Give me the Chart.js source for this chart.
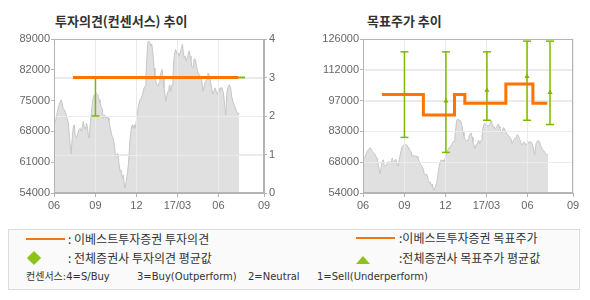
<!DOCTYPE html>
<html><head><meta charset="utf-8">
<script src="https://cdn.jsdelivr.net/npm/chart.js@4.4.0/dist/chart.umd.min.js"></script>
<style>
body{margin:0;background:#fff;}
#wrap{position:relative;width:590px;height:300px;overflow:hidden;font-family:"Noto Sans CJK KR","Noto Sans",sans-serif;color:#333;}
.t{position:absolute;white-space:nowrap;line-height:1;font-size:12px;}
.s{font-family:"DejaVu Sans","Noto Sans CJK KR",sans-serif;font-size:10px;}
.title{font-size:13px;font-weight:bold;color:#333;}
canvas{position:absolute;}
#legend{position:absolute;left:8px;top:229px;width:570px;height:59px;border:1px solid #dcdcdc;background:#fafafa;}
.oline{position:absolute;height:2px;background:#f07810;}
.diamond{position:absolute;width:10px;height:10px;background:#8cc31a;transform:rotate(45deg);}
.tri{position:absolute;width:0;height:0;border-left:7px solid transparent;border-right:7px solid transparent;border-bottom:8px solid #8cc31a;}
</style></head><body>
<div id="wrap">
  <div class="t title" style="left:55px;top:14px;">투자의견(컨센서스) 추이</div>
  <div class="t title" style="left:367px;top:14px;">목표주가 추이</div>
  <canvas id="c1" width="290" height="215" style="left:0;top:0;width:290px;height:215px"></canvas>
  <canvas id="c2" width="290" height="215" style="left:300px;top:0;width:290px;height:215px"></canvas>
  <div id="legend"></div>
  <div class="oline" style="left:26px;top:238px;width:39px;"></div>
  <div class="t" style="left:68px;top:233px;">: 이베스트투자증권 투자의견</div>
  <div class="diamond" style="left:29px;top:253px;"></div>
  <div class="t" style="left:68px;top:252px;">: 전체증권사 투자의견 평균값</div>
  <div class="t s" style="left:26px;top:272px;">컨센서스:4=S/Buy</div>
  <div class="t s" style="left:137px;top:272px;">3=Buy(Outperform)</div>
  <div class="t s" style="left:248px;top:272px;">2=Neutral</div>
  <div class="t s" style="left:317px;top:272px;">1=Sell(Underperform)</div>
  <div class="oline" style="left:356px;top:237px;width:39px;"></div>
  <div class="t" style="left:399px;top:232px;">:이베스트투자증권 목표주가</div>
  <div class="tri" style="left:356px;top:256px;"></div>
  <div class="t" style="left:399px;top:252px;">:전체증권사 목표주가 평균값</div>
</div>
<script>
// ---- data (x = days since 2016-06-01) ----
const xTickDays = [0, 92, 183, 274, 365, 466];
const xTickLabels = ['06', '09', '12', '17/03', '06', '09'];

const priceDays = [0,2,4,7,10,13,16,18,20,23,26,29,32,34,36,38,41,43,45,47,50,52,55,58,61,63,65,67,70,72,74,76,78,81,83,86,88,91,94,97,100,102,105,107,109,112,115,118,121,122,125,128,131,134,136,138,141,143,145,147,149,152,154,156,158,160,163,165,167,169,172,174,176,178,180,183,185,188,191,194,197,200,202,204,206,208,210,213,215,217,220,222,224,226,228,231,233,235,237,240,242,244,246,248,251,253,255,257,259,262,264,266,268,270,273,275,277,280,282,285,287,289,291,293,296,298,300,302,304,306,309,311,314,316,320,324,328,331,334,336,340,342,345,347,350,352,355,357,360,363,366,368,370,373,376,379,381,384,387,389,392,394,398,401,405,409,411];
const priceValues = [69900,70300,70600,72200,73700,74500,75200,74500,73300,72900,72200,71000,69900,66900,64900,63000,67200,69100,69500,67200,66500,67200,68400,68700,68000,69100,70300,69100,68400,69900,69100,67200,66500,70300,72200,75200,76000,76400,76700,76400,75200,74500,73500,73300,71000,71800,71000,71400,71000,70300,68700,67200,66500,64900,63000,62300,63000,61900,60000,58900,59200,57300,58100,55800,55100,56600,58500,60400,63400,66500,69100,69500,68700,69500,68700,70600,72200,74100,75200,75600,76700,77900,78300,80500,84500,88000,88500,88200,87400,87800,85100,82400,80600,79400,78600,78300,79000,80200,81300,82100,80200,77900,76700,74800,76400,77100,77900,78600,77100,78600,80200,84300,85900,86600,85500,85900,85100,85900,86600,87800,85900,84700,85100,84000,84700,85500,86300,85100,84300,82600,82500,84500,84300,82800,81300,80600,79400,77100,78600,79400,79800,81300,80600,79400,77900,76400,77100,77900,77100,76400,77900,77100,77900,77900,76700,73700,71800,77100,78300,78600,77900,76000,74500,73700,72600,71800,72200];

// 투자의견 (consensus scale 0-4)
const opinionDays = [42, 409];
const opinionValues = [3, 3];
const opinionAvgDays = [92, 415];
const opinionAvgLow = [2, 3];
const opinionAvgHigh = [3, 3];
const leftPriceTicks = [54000, 61000, 68000, 75000, 82000, 89000];
const opinionTicks = [0, 1, 2, 3, 4];

// 목표주가
const targetDays = [42, 134, 203, 226, 317, 377, 409];
const targetValues = [100000, 90500, 100000, 96000, 105000, 96000, 96000];
const targetAvgDays = [92, 184, 275, 364, 415];
const targetAvgLow = [80000, 73000, 88000, 88000, 86000];
const targetAvgHigh = [120000, 120000, 120000, 125000, 125000];
const targetAvgMean = [100000, 97000, 102000, 108500, 101000];
const rightTickValues = [54000, 68400, 82800, 97200, 111600, 126000];
const rightTickLabels = ['54000', '68000', '83000', '97000', '112000', '126000'];

// ---- styles ----
const ORANGE = '#ff7400';
const GREEN = '#7cb900';
const AXIS = '#b4b4b4';
const GRID = '#ebebeb';
const TICKFONT = {family: 'Liberation Sans', size: 11};
const TICKCOL = '#666';

function pts(xs, ys){ return xs.map((x, i) => ({x: x, y: ys[i]})); }
function errPts(xs, lo, hi){
  const out = [];
  xs.forEach((x, i) => { out.push({x: x, y: lo[i]}, {x: x, y: hi[i]}, {x: x, y: null}); });
  return out;
}

const gridOverPrice = {
  id: 'gridOverPrice',
  afterDatasetDraw(chart, args, opts){
    const ds = chart.data.datasets[args.index];
    if (ds.label !== '주가') return;
    const ctx = chart.ctx, a = chart.chartArea;
    ctx.save();
    ctx.strokeStyle = GRID; ctx.lineWidth = 1;
    ctx.beginPath();
    const xs = chart.scales.x;
    xs.ticks.forEach(t => {
      const px = Math.round(xs.getPixelForValue(t.value)) + 0.5;
      if (px > a.left + 2 && px < a.right - 2) { ctx.moveTo(px, a.top); ctx.lineTo(px, a.bottom); }
    });
    const ys = chart.scales[opts.gridScale];
    ys.ticks.forEach(t => {
      const py = Math.round(ys.getPixelForValue(t.value)) + 0.5;
      if (py > a.top + 2 && py < a.bottom - 2) { ctx.moveTo(a.left, py); ctx.lineTo(a.right, py); }
    });
    ctx.stroke();
    ctx.restore();
  }
};
const frame = {
  id: 'frame',
  afterDatasetsDraw(chart){
    const ctx = chart.ctx, a = chart.chartArea;
    ctx.save();
    ctx.strokeStyle = AXIS; ctx.lineWidth = 1;
    ctx.strokeRect(Math.round(a.left) + 0.5, Math.round(a.top) + 0.5, Math.round(a.right - a.left) - 1, Math.round(a.bottom - a.top) - 1);
    ctx.restore();
  }
};

function xScale(){
  return {
    type: 'linear', min: 0, max: 466,
    afterBuildTicks: s => { s.ticks = xTickDays.map(v => ({value: v})); },
    afterFit: s => { s.height = 22; },
    ticks: {autoSkip: false, maxRotation: 0, color: TICKCOL, font: TICKFONT, padding: 2,
            callback: (v, i) => xTickLabels[i]},
    grid: {color: GRID, tickColor: AXIS, tickLength: 4},
    border: {color: AXIS}
  };
}

function priceDataset(){
  return {label: '주가', data: pts(priceDays, priceValues), yAxisID: 'y',
    borderColor: '#c6c6c6', borderWidth: 1, backgroundColor: '#e0e0e0', fill: 'start',
    pointRadius: 0, tension: 0};
}

// ---- left chart ----
new Chart(document.getElementById('c1'), {
  type: 'line',
  data: {datasets: [
    {label: '이베스트투자증권 투자의견', data: pts(opinionDays, opinionValues), yAxisID: 'y2',
     borderColor: ORANGE, borderWidth: 3, pointRadius: 0},
    {label: '전체증권사 투자의견 평균값', data: errPts(opinionAvgDays, opinionAvgLow, opinionAvgHigh), yAxisID: 'y2',
     borderColor: GREEN, borderWidth: 1.5, spanGaps: false, pointStyle: 'line', pointRadius: 4,
     pointBorderColor: GREEN, pointBorderWidth: 1.5},
    priceDataset()
  ]},
  options: {
    responsive: false, animation: false, devicePixelRatio: 1,
    layout: {padding: {top: 39, left: 0, right: 0, bottom: 0}},
    plugins: {legend: {display: false}, tooltip: {enabled: false}, gridOverPrice: {gridScale: 'y2'}},
    scales: {
      x: xScale(),
      y: {position: 'left', min: 54000, max: 89000,
          afterBuildTicks: s => { s.ticks = leftPriceTicks.map(v => ({value: v})); },
          afterFit: s => { s.width = 54; },
          ticks: {color: TICKCOL, font: TICKFONT, padding: 1, callback: v => String(v)},
          grid: {drawOnChartArea: false, tickLength: 3, tickColor: AXIS},
          border: {color: AXIS}},
      y2: {position: 'right', min: 0, max: 4,
          afterBuildTicks: s => { s.ticks = opinionTicks.map(v => ({value: v})); },
          afterFit: s => { s.width = 26; },
          ticks: {color: TICKCOL, font: TICKFONT, padding: 2, callback: v => String(v)},
          grid: {color: GRID, tickLength: 3, tickColor: AXIS},
          border: {color: AXIS}}
    }
  },
  plugins: [gridOverPrice, frame]
});

// ---- right chart ----
new Chart(document.getElementById('c2'), {
  type: 'line',
  data: {datasets: [
    {label: '이베스트투자증권 목표주가', data: pts(targetDays, targetValues), yAxisID: 'y',
     borderColor: ORANGE, borderWidth: 3, pointRadius: 0, stepped: 'before'},
    {label: '전체증권사 목표주가 평균값', data: pts(targetAvgDays, targetAvgMean), yAxisID: 'y',
     showLine: false, pointStyle: 'triangle', pointRadius: 3, backgroundColor: GREEN, borderColor: GREEN, borderWidth: 0},
    {label: '범위', data: errPts(targetAvgDays, targetAvgLow, targetAvgHigh), yAxisID: 'y',
     borderColor: GREEN, borderWidth: 1.5, spanGaps: false, pointStyle: 'line', pointRadius: 4,
     pointBorderColor: GREEN, pointBorderWidth: 1.5},
    priceDataset()
  ]},
  options: {
    responsive: false, animation: false, devicePixelRatio: 1,
    layout: {padding: {top: 39, left: 0, right: 17, bottom: 0}},
    plugins: {legend: {display: false}, tooltip: {enabled: false}, gridOverPrice: {gridScale: 'y'}},
    scales: {
      x: xScale(),
      y: {position: 'left', min: 54000, max: 126000,
          afterBuildTicks: s => { s.ticks = rightTickValues.map(v => ({value: v})); },
          afterFit: s => { s.width = 63; },
          ticks: {color: TICKCOL, font: TICKFONT, padding: 1, callback: (v, i) => rightTickLabels[i]},
          grid: {color: GRID, tickLength: 3, tickColor: AXIS},
          border: {color: AXIS}}
    }
  },
  plugins: [gridOverPrice, frame]
});
</script>
</body></html>
